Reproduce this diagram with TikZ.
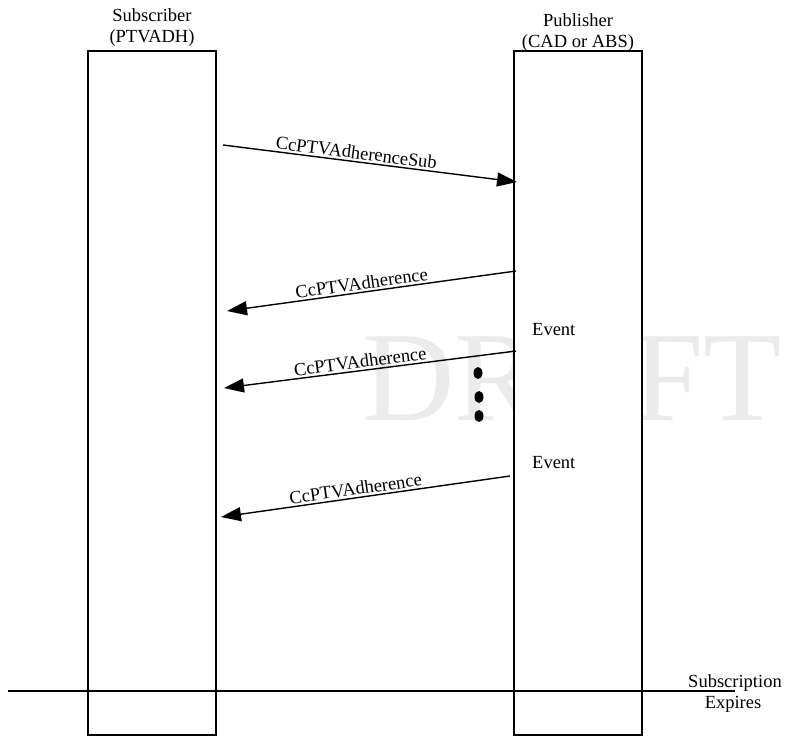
\documentclass[tikz,border=0pt]{standalone}
\usepackage{fontspec}
\setmainfont{Liberation Serif}
\usetikzlibrary{arrows.meta}
\begin{document}
\begin{tikzpicture}[x=1pt,y=-1pt,
  lbl/.style={font=\fontsize{18.5}{21}\selectfont, align=center, inner sep=0pt},
  lifebox/.style={draw, fill=white, line width=1.3pt, minimum width=128pt, minimum height=684pt, inner sep=0pt},
  msg/.style={line width=1.4pt, -{Triangle[length=20pt,width=14pt]}},
  msglbl/.style={font=\fontsize{18.5}{21}\selectfont, sloped, above, inner sep=2pt},
  dot/.style={fill=black}]
\useasboundingbox (0,0) rectangle (786,738);
% watermark
\node[anchor=base west, inner sep=0pt, text=black!8, font=\fontsize{128}{128}\selectfont] (wm) at (362,420) {DRAFT};
% lifelines
\node[lifebox] (sub) at (152,393) {};
\node[lifebox] (pub) at (578,393) {};
% headers
\node[lbl, anchor=base] (subt1) at (152,22) {Subscriber};
\node[lbl, anchor=base] (subt2) at (152,43) {(PTVADH)};
\node[lbl, anchor=base] (pubt1) at (578,27) {Publisher};
\node[lbl, anchor=base] (pubt2) at (578,48) {(CAD or ABS)};
% events
\node[lbl, anchor=base west] (ev1) at (532,335) {Event};
\node[lbl, anchor=base west] (ev2) at (532,468) {Event};
% message endpoints
\coordinate (a1s) at (223,145);
\coordinate (a1e) at (517,182);
\coordinate (a2s) at (516,271);
\coordinate (a2e) at (227,311);
\coordinate (a3s) at (516,351);
\coordinate (a3e) at (224,388);
\coordinate (a4s) at (510,476);
\coordinate (a4e) at (221,517);
\draw[msg] (a1s) -- node[msglbl, pos=0.45] {CcPTVAdherenceSub} (a1e);
\draw[msg] (a2s) -- node[msglbl, pos=0.53] {CcPTVAdherence} (a2e);
\draw[msg] (a3s) -- node[msglbl, pos=0.53] {CcPTVAdherence} (a3e);
\draw[msg] (a4s) -- node[msglbl, pos=0.53] {CcPTVAdherence} (a4e);
% continuation dots
\fill[dot] (478,373) ellipse [x radius=4.5pt, y radius=6pt];
\fill[dot] (479,397) ellipse [x radius=4.5pt, y radius=6pt];
\fill[dot] (479,416) ellipse [x radius=4.5pt, y radius=6pt];
% subscription expiry
\coordinate (expL) at (8,691);
\coordinate (expR) at (735,691);
\draw[line width=1.3pt] (expL) -- (expR);
\node[lbl, anchor=base] (exp1) at (735,687) {Subscription};
\node[lbl, anchor=base] (exp2) at (733,708) {Expires};
\end{tikzpicture}
\end{document}
